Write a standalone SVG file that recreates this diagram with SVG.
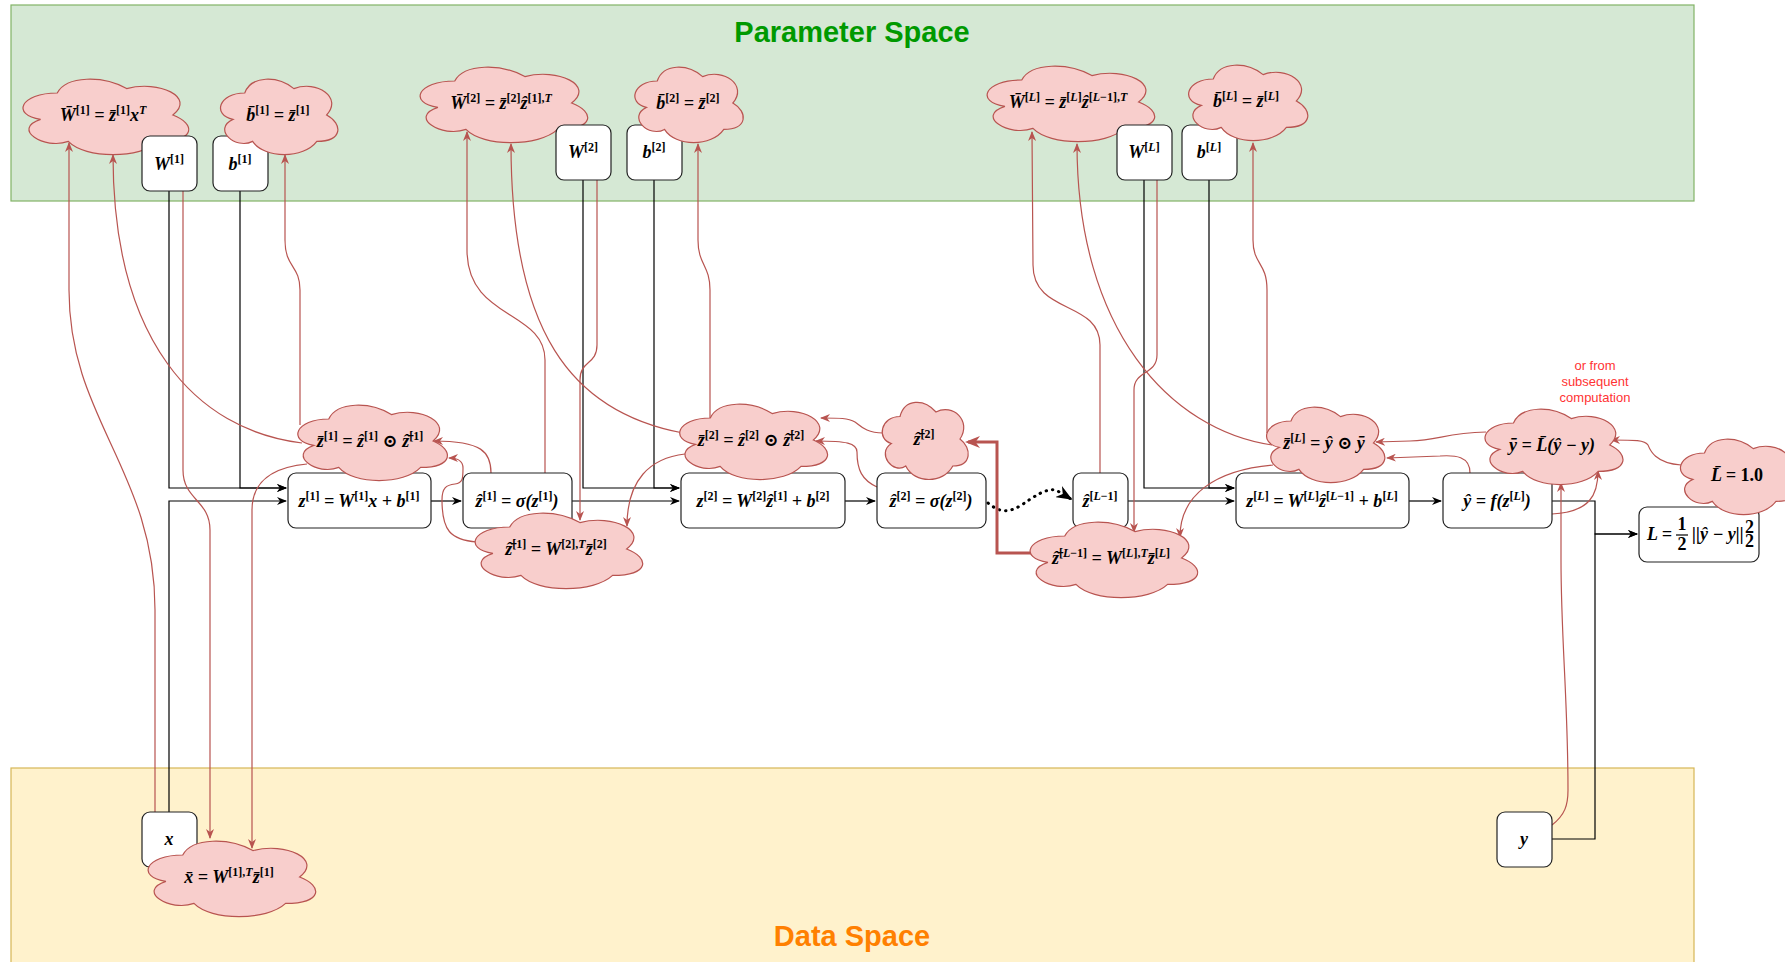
<svg xmlns="http://www.w3.org/2000/svg" xmlns:xlink="http://www.w3.org/1999/xlink" width="1785" height="962" viewBox="0 0 1785 962">
  <style>
    .band-p { fill: #D5E8D4; stroke: #82B366; stroke-width: 1.2; }
    .band-d { fill: #FFF2CC; stroke: #D6B656; stroke-width: 1.2; }
    .title { font-family: "Liberation Sans", Arial, sans-serif; font-weight: bold; font-size: 29px; text-anchor: middle; }
    .box { fill: #FFFFFF; stroke: #222222; stroke-width: 1.2; }
    .cloud { fill: #F8CECC; stroke: #B85450; stroke-width: 1.2; }
    .m { font-family: "Liberation Serif", "DejaVu Serif", serif; font-weight: bold; font-style: italic; font-size: 18px; fill: #000; text-anchor: middle; }
    .st { text-anchor: start; }
    .s { font-size: 12px; font-style: normal; }
    .si { font-size: 12px; }
    .up { font-style: normal; }
    .note { font-family: "Liberation Sans", Arial, sans-serif; font-size: 13px; fill: #FF3333; text-anchor: middle; }
    .wire { fill: none; stroke: #000; stroke-width: 1.2; }
    .grad { fill: none; stroke: #B85450; stroke-width: 1.2; }
    .grad-thick { fill: none; stroke: #B85450; stroke-width: 3; }
    .dots { fill: none; stroke: #000; stroke-width: 3; stroke-dasharray: 0.5 6; stroke-linecap: round; }
  </style>
  <defs>
    <symbol id="cloud" viewBox="0 0 100 100" preserveAspectRatio="none" overflow="visible">
      <path vector-effect="non-scaling-stroke" d="M25,25 C5,25 0,50 16,55 C0,66 18,90 31,80 C40,100 70,100 80,80 C100,80 100,60 87.5,50 C100,30 80,10 62.5,20 C50,5 30,5 25,25 Z"/>
    </symbol>
    <marker id="ab" viewBox="0 0 10 8" refX="9" refY="4" markerWidth="10" markerHeight="8" orient="auto" markerUnits="userSpaceOnUse">
      <path d="M0,0 L10,4 L0,8 L3,4 Z" fill="#000"/>
    </marker>
    <marker id="ar" viewBox="0 0 10 8" refX="9" refY="4" markerWidth="10" markerHeight="8" orient="auto" markerUnits="userSpaceOnUse">
      <path d="M0,0 L10,4 L0,8 L3,4 Z" fill="#B85450"/>
    </marker>
    <marker id="art" viewBox="0 0 10 8" refX="8" refY="4" markerWidth="15" markerHeight="12" orient="auto" markerUnits="userSpaceOnUse">
      <path d="M0,0 L10,4 L0,8 L3,4 Z" fill="#B85450"/>
    </marker>
    <marker id="abd" viewBox="0 0 10 8" refX="9" refY="4" markerWidth="16" markerHeight="13" orient="auto" markerUnits="userSpaceOnUse">
      <path d="M0,0 L10,4 L0,8 L3,4 Z" fill="#000"/>
    </marker>
  </defs>

  <!-- spaces -->
  <g id="parameter-space">
    <rect class="band-p" x="11" y="5" width="1683" height="196"/>
    <text class="title" x="852" y="42" fill="#009900">Parameter Space</text>
  </g>
  <g id="data-space">
    <rect class="band-d" x="11" y="768" width="1683" height="210"/>
    <text class="title" x="852" y="946" fill="#FF8000">Data Space</text>
  </g>

  <!-- forward wires and adjoint flows -->
  <g id="connectors">
    <path class="wire" d="M169 191 L169 488 L286 488" marker-end="url(#ab)"/>
    <path class="wire" d="M240 191 L240 488 L286 488" marker-end="url(#ab)"/>
    <path class="wire" d="M169 812 L169 501 L286 501" marker-end="url(#ab)"/>
    <path class="wire" d="M431 501 L461 501" marker-end="url(#ab)"/>
    <path class="wire" d="M572 501 L679 501" marker-end="url(#ab)"/>
    <path class="wire" d="M583 179 L583 488 L679 488" marker-end="url(#ab)"/>
    <path class="wire" d="M654 179 L654 488 L679 488" marker-end="url(#ab)"/>
    <path class="wire" d="M845 501 L875 501" marker-end="url(#ab)"/>
    <path class="dots" d="M988 503 C998 511 1006 514 1020 506 C1034 497 1045 488 1056 490 L1071 499" marker-end="url(#abd)"/>
    <path class="wire" d="M1128 501 L1234 501" marker-end="url(#ab)"/>
    <path class="wire" d="M1144 179 L1144 488 L1234 488" marker-end="url(#ab)"/>
    <path class="wire" d="M1209 179 L1209 488 L1234 488" marker-end="url(#ab)"/>
    <path class="wire" d="M1409 501 L1441 501" marker-end="url(#ab)"/>
    <path class="wire" d="M1552 501 L1595 501 L1595 534 L1637 534" marker-end="url(#ab)"/>
    <path class="wire" d="M1552 839 L1595 839 L1595 534 L1637 534" marker-end="url(#ab)"/>

    <!-- layer 1 -->
    <path class="grad" d="M155 812 L155 610 C155 470 69 420 69 290 L69 143" marker-end="url(#ar)"/>
    <path class="grad" d="M302 443 C195 430 113 340 113 155" marker-end="url(#ar)"/>
    <path class="grad" d="M300 425 L300 290 C300 265 285 268 285 240 L285 155" marker-end="url(#ar)"/>
    <path class="grad" d="M183 191 L183 470 C183 500 210 500 210 530 L210 838" marker-end="url(#ar)"/>
    <path class="grad" d="M307 464 C275 467 252 480 252 510 L252 848" marker-end="url(#ar)"/>
    <path class="grad" d="M491 473 C491 452 482 441 434 441" marker-end="url(#ar)"/>
    <path class="grad" d="M477 542 C450 540 442 530 442 500 C442 488 446 485 455 484 C463 483 463 478 463 468 C463 461 458 458 449 458" marker-end="url(#ar)"/>

    <!-- layer 2 -->
    <path class="grad" d="M545 473 L545 360 C545 310 467 320 467 250 L467 132" marker-end="url(#ar)"/>
    <path class="grad" d="M683 433 C570 412 511 330 511 144" marker-end="url(#ar)"/>
    <path class="grad" d="M710 418 L710 290 C710 265 698 265 698 240 L698 144" marker-end="url(#ar)"/>
    <path class="grad" d="M597 179 L597 345 C597 365 580 360 580 380 L580 520" marker-end="url(#ar)"/>
    <path class="grad" d="M685 454 C650 458 627 480 627 526" marker-end="url(#ar)"/>
    <path class="grad" d="M877 487 C862 480 857 470 857 452 C857 443 846 441 816 441" marker-end="url(#ar)"/>
    <path class="grad" d="M883 433 C865 433 860 425 855 422 C848 418 840 418 821 418" marker-end="url(#ar)"/>
    <path class="grad-thick" d="M1032 553 L997 553 L997 442 L968 442" marker-end="url(#art)"/>

    <!-- layer L -->
    <path class="grad" d="M1100 473 L1100 345 C1100 300 1033 315 1033 265 L1032 132" marker-end="url(#ar)"/>
    <path class="grad" d="M1272 445 C1170 430 1077 330 1077 144" marker-end="url(#ar)"/>
    <path class="grad" d="M1267 433 L1267 290 C1267 262 1253 265 1253 240 L1253 143" marker-end="url(#ar)"/>
    <path class="grad" d="M1157 179 L1157 355 C1157 375 1134 370 1134 390 L1134 532" marker-end="url(#ar)"/>
    <path class="grad" d="M1273 465 C1215 470 1180 495 1180 537" marker-end="url(#ar)"/>

    <!-- output and loss -->
    <path class="grad" d="M1486 432 C1445 433 1440 440 1410 441 L1376 442" marker-end="url(#ar)"/>
    <path class="grad" d="M1470 473 C1470 456 1455 455 1440 456 L1387 458" marker-end="url(#ar)"/>
    <path class="grad" d="M1552 514 C1590 512 1598 495 1598 471" marker-end="url(#ar)"/>
    <path class="grad" d="M1552 825 C1565 815 1568 805 1568 790 C1568 700 1561 640 1561 560 L1561 483" marker-end="url(#ar)"/>
    <path class="grad" d="M1681 465 C1655 463 1650 450 1648 445 C1645 440 1635 440 1611 440" marker-end="url(#ar)"/>
  </g>

  <!-- parameter adjoints -->
  <g id="Wbar1"><use href="#cloud" class="cloud" x="11" y="71" width="185" height="88"/>
    <text class="m" x="103" y="121">W&#x304;<tspan class="s" dy="-7">[1]</tspan><tspan dy="7"> = z&#x304;</tspan><tspan class="s" dy="-7">[1]</tspan><tspan dy="7">x</tspan><tspan class="si" dy="-7">T</tspan></text></g>
  <g id="W1"><rect class="box" x="142" y="136" width="55" height="55" rx="8"/>
    <text class="m" x="169" y="170">W<tspan class="s" dy="-7">[1]</tspan></text></g>
  <g id="b1"><rect class="box" x="213" y="136" width="55" height="55" rx="8"/>
    <text class="m" x="240" y="170">b<tspan class="s" dy="-7">[1]</tspan></text></g>
  <g id="bbar1"><use href="#cloud" class="cloud" x="212" y="71" width="131" height="88"/>
    <text class="m" x="278" y="121">b&#x304;<tspan class="s" dy="-7">[1]</tspan><tspan dy="7"> = z&#x304;</tspan><tspan class="s" dy="-7">[1]</tspan></text></g>

  <g id="Wbar2"><use href="#cloud" class="cloud" x="408" y="59" width="187" height="88"/>
    <text class="m" x="501" y="109">W&#x304;<tspan class="s" dy="-7">[2]</tspan><tspan dy="7"> = z&#x304;</tspan><tspan class="s" dy="-7">[2]</tspan><tspan dy="7">&#x1E91;</tspan><tspan class="s" dy="-7">[1],</tspan><tspan class="si">T</tspan></text></g>
  <g id="W2"><rect class="box" x="556" y="125" width="55" height="55" rx="8"/>
    <text class="m" x="583" y="158">W<tspan class="s" dy="-7">[2]</tspan></text></g>
  <g id="b2"><rect class="box" x="627" y="125" width="55" height="55" rx="8"/>
    <text class="m" x="654" y="158">b<tspan class="s" dy="-7">[2]</tspan></text></g>
  <g id="bbar2"><use href="#cloud" class="cloud" x="627" y="59" width="121" height="88"/>
    <text class="m" x="688" y="109">b&#x304;<tspan class="s" dy="-7">[2]</tspan><tspan dy="7"> = z&#x304;</tspan><tspan class="s" dy="-7">[2]</tspan></text></g>

  <g id="WbarL"><use href="#cloud" class="cloud" x="975" y="58" width="187" height="88"/>
    <text class="m" x="1068" y="108">W&#x304;<tspan class="s" dy="-7">[</tspan><tspan class="si">L</tspan><tspan class="s">]</tspan><tspan dy="7"> = z&#x304;</tspan><tspan class="s" dy="-7">[</tspan><tspan class="si">L</tspan><tspan class="s">]</tspan><tspan dy="7">&#x1E91;</tspan><tspan class="s" dy="-7">[</tspan><tspan class="si">L</tspan><tspan class="s">&#x2212;1],</tspan><tspan class="si">T</tspan></text></g>
  <g id="WL"><rect class="box" x="1117" y="125" width="55" height="55" rx="8"/>
    <text class="m" x="1144" y="158">W<tspan class="s" dy="-7">[</tspan><tspan class="si">L</tspan><tspan class="s">]</tspan></text></g>
  <g id="bL"><rect class="box" x="1182" y="125" width="55" height="55" rx="8"/>
    <text class="m" x="1209" y="158">b<tspan class="s" dy="-7">[</tspan><tspan class="si">L</tspan><tspan class="s">]</tspan></text></g>
  <g id="bbarL"><use href="#cloud" class="cloud" x="1180" y="57" width="133" height="88"/>
    <text class="m" x="1246" y="107">b&#x304;<tspan class="s" dy="-7">[</tspan><tspan class="si">L</tspan><tspan class="s">]</tspan><tspan dy="7"> = z&#x304;</tspan><tspan class="s" dy="-7">[</tspan><tspan class="si">L</tspan><tspan class="s">]</tspan></text></g>

  <!-- layer 1 computations -->
  <g id="z1"><rect class="box" x="288" y="473" width="143" height="55" rx="8"/>
    <text class="m" x="359" y="507">z<tspan class="s" dy="-7">[1]</tspan><tspan dy="7"> = W</tspan><tspan class="s" dy="-7">[1]</tspan><tspan dy="7">x + b</tspan><tspan class="s" dy="-7">[1]</tspan></text></g>
  <g id="zhat1"><rect class="box" x="463" y="473" width="109" height="55" rx="8"/>
    <text class="m" x="517" y="507">&#x1E91;<tspan class="s" dy="-7">[1]</tspan><tspan dy="7"> = &#x3C3;(z</tspan><tspan class="s" dy="-7">[1]</tspan><tspan dy="7">)</tspan></text></g>
  <g id="zbar1"><use href="#cloud" class="cloud" x="287" y="397" width="167" height="88"/>
    <text class="m" x="370" y="447">z&#x304;<tspan class="s" dy="-7">[1]</tspan><tspan dy="7"> = &#x1E91;</tspan><tspan class="s" dy="-7">[1]</tspan><tspan dy="7"> &#x2299; &#x1E91;&#x304;</tspan><tspan class="s" dy="-7">[1]</tspan></text></g>
  <g id="zhatbar1"><use href="#cloud" class="cloud" x="463" y="505" width="187" height="88"/>
    <text class="m" x="556" y="555">&#x1E91;&#x304;<tspan class="s" dy="-7">[1]</tspan><tspan dy="7"> = W</tspan><tspan class="s" dy="-7">[2],</tspan><tspan class="si">T</tspan><tspan dy="7">z&#x304;</tspan><tspan class="s" dy="-7">[2]</tspan></text></g>

  <!-- layer 2 computations -->
  <g id="z2"><rect class="box" x="681" y="473" width="164" height="55" rx="8"/>
    <text class="m" x="763" y="507">z<tspan class="s" dy="-7">[2]</tspan><tspan dy="7"> = W</tspan><tspan class="s" dy="-7">[2]</tspan><tspan dy="7">&#x1E91;</tspan><tspan class="s" dy="-7">[1]</tspan><tspan dy="7"> + b</tspan><tspan class="s" dy="-7">[2]</tspan></text></g>
  <g id="zhat2"><rect class="box" x="877" y="473" width="109" height="55" rx="8"/>
    <text class="m" x="931" y="507">&#x1E91;<tspan class="s" dy="-7">[2]</tspan><tspan dy="7"> = &#x3C3;(z</tspan><tspan class="s" dy="-7">[2]</tspan><tspan dy="7">)</tspan></text></g>
  <g id="zbar2"><use href="#cloud" class="cloud" x="669" y="396" width="165" height="88"/>
    <text class="m" x="751" y="446">z&#x304;<tspan class="s" dy="-7">[2]</tspan><tspan dy="7"> = &#x1E91;</tspan><tspan class="s" dy="-7">[2]</tspan><tspan dy="7"> &#x2299; &#x1E91;&#x304;</tspan><tspan class="s" dy="-7">[2]</tspan></text></g>
  <g id="zhatbar2"><use href="#cloud" class="cloud" x="876" y="394" width="96" height="90"/>
    <text class="m" x="924" y="445">&#x1E91;&#x304;<tspan class="s" dy="-7">[2]</tspan></text></g>

  <!-- layer L computations -->
  <g id="zhatLm1"><rect class="box" x="1073" y="473" width="55" height="55" rx="8"/>
    <text class="m" x="1100" y="507">&#x1E91;<tspan class="s" dy="-7">[</tspan><tspan class="si">L</tspan><tspan class="s">&#x2212;1]</tspan></text></g>
  <g id="zhatbarLm1"><use href="#cloud" class="cloud" x="1018" y="514" width="187" height="88"/>
    <text class="m" x="1111" y="564">&#x1E91;&#x304;<tspan class="s" dy="-7">[</tspan><tspan class="si">L</tspan><tspan class="s">&#x2212;1]</tspan><tspan dy="7"> = W</tspan><tspan class="s" dy="-7">[</tspan><tspan class="si">L</tspan><tspan class="s">],</tspan><tspan class="si">T</tspan><tspan dy="7">z&#x304;</tspan><tspan class="s" dy="-7">[</tspan><tspan class="si">L</tspan><tspan class="s">]</tspan></text></g>
  <g id="zL"><rect class="box" x="1236" y="473" width="173" height="55" rx="8"/>
    <text class="m" x="1322" y="507">z<tspan class="s" dy="-7">[</tspan><tspan class="si">L</tspan><tspan class="s">]</tspan><tspan dy="7"> = W</tspan><tspan class="s" dy="-7">[</tspan><tspan class="si">L</tspan><tspan class="s">]</tspan><tspan dy="7">&#x1E91;</tspan><tspan class="s" dy="-7">[</tspan><tspan class="si">L</tspan><tspan class="s">&#x2212;1]</tspan><tspan dy="7"> + b</tspan><tspan class="s" dy="-7">[</tspan><tspan class="si">L</tspan><tspan class="s">]</tspan></text></g>
  <g id="zbarL"><use href="#cloud" class="cloud" x="1258" y="399" width="132" height="88"/>
    <text class="m" x="1324" y="449">z&#x304;<tspan class="s" dy="-7">[</tspan><tspan class="si">L</tspan><tspan class="s">]</tspan><tspan dy="7"> = &#x177; &#x2299; &#x233;</tspan></text></g>

  <!-- output and loss -->
  <g id="yhat"><rect class="box" x="1443" y="473" width="109" height="55" rx="8"/>
    <text class="m" x="1497" y="507">&#x177; = f(z<tspan class="s" dy="-7">[</tspan><tspan class="si">L</tspan><tspan class="s">]</tspan><tspan dy="7">)</tspan></text></g>
  <g id="yhatbar"><use href="#cloud" class="cloud" x="1475" y="401" width="154" height="88"/>
    <text class="m" x="1552" y="451">&#x233; = L&#x304;(&#x177; &#x2212; y)</text></g>
  <g id="note">
    <text class="note" x="1595" y="370">or from</text>
    <text class="note" x="1595" y="386">subsequent</text>
    <text class="note" x="1595" y="402">computation</text>
  </g>
  <g id="loss"><rect class="box" x="1639" y="507" width="120" height="55" rx="8"/>
    <text class="m st" x="1647" y="540">L =</text>
    <text class="m up" x="1682" y="530" font-size="14">1</text>
    <line x1="1676" y1="535" x2="1688" y2="535" stroke="#000" stroke-width="1.2"/>
    <text class="m up" x="1682" y="550" font-size="14">2</text>
    <text class="m st" x="1692" y="540">||&#x177; &#x2212; y||</text>
    <text class="m st up" x="1745" y="533" font-size="11">2</text>
    <text class="m st up" x="1745" y="547" font-size="11">2</text></g>
  <g id="Lbar"><use href="#cloud" class="cloud" x="1672" y="431" width="130" height="88"/>
    <text class="m" x="1737" y="481">L&#x304; = <tspan class="up">1.0</tspan></text></g>

  <!-- data -->
  <g id="x"><rect class="box" x="142" y="812" width="55" height="55" rx="8"/>
    <text class="m" x="169" y="845">x</text></g>
  <g id="xbar"><use href="#cloud" class="cloud" x="136" y="833" width="187" height="88"/>
    <text class="m" x="229" y="883">x&#x304; = W<tspan class="s" dy="-7">[1],</tspan><tspan class="si">T</tspan><tspan dy="7">z&#x304;</tspan><tspan class="s" dy="-7">[1]</tspan></text></g>
  <g id="y"><rect class="box" x="1497" y="812" width="55" height="55" rx="8"/>
    <text class="m" x="1524" y="845">y</text></g>
</svg>
